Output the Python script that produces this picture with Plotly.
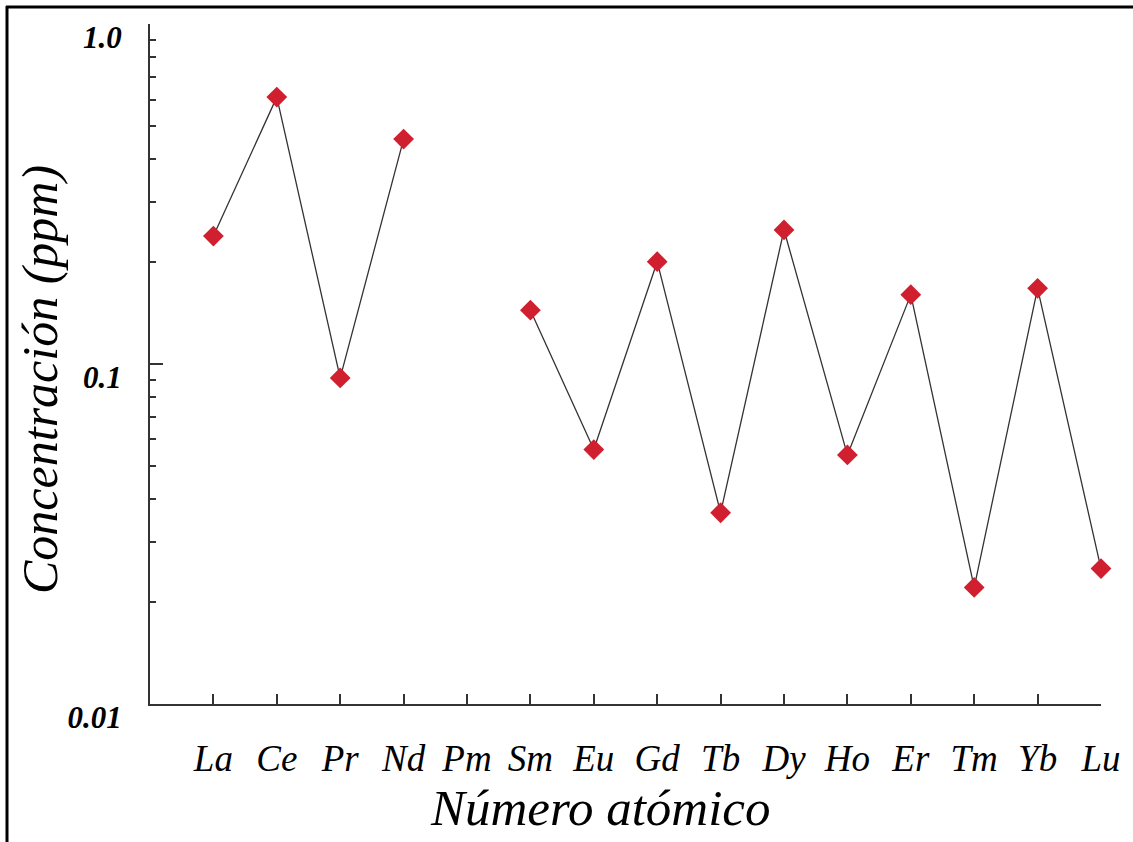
import plotly.graph_objects as go

elements = ["La", "Ce", "Pr", "Nd", "Pm", "Sm", "Eu", "Gd", "Tb", "Dy", "Ho", "Er", "Tm", "Yb", "Lu"]
concentration = [0.238, 0.61, 0.091, 0.459, None, 0.144, 0.056, 0.20, 0.0365, 0.248, 0.054, 0.16, 0.022, 0.167, 0.025]
y_ticks = [0.01, 0.1, 1.0]
y_tick_labels = ["0.01", "0.1", "1.0"]
y_minor = [k * 10 ** e for e in (-2, -1) for k in range(2, 10)]
x_title = "Número atómico"
y_title = "Concentración (ppm)"

FONT = "Liberation Serif"
W, H = 1133, 842
L, R, T, B = 150, 32, 24, 138
pw, ph = W - L - R, H - T - B


def px_x(p):
    return (p - L) / pw


def px_y(p):
    return (H - B - p) / ph


fig = go.Figure()
fig.add_trace(go.Scatter(
    x=list(range(len(elements))),
    y=concentration,
    mode="lines+markers",
    connectgaps=False,
    line=dict(color="#333333", width=1.3),
    marker=dict(symbol="diamond", size=16, color="#d01f2f", line=dict(width=0)),
    showlegend=False,
    cliponaxis=False,
))

fig.update_layout(
    width=W, height=H,
    margin=dict(l=L, r=R, t=T, b=B, autoexpand=False),
    paper_bgcolor="white", plot_bgcolor="white",
    xaxis=dict(
        range=[-1, len(elements) - 1],
        tickmode="array",
        tickvals=list(range(len(elements))),
        ticktext=elements,
        ticks="inside", ticklen=10, tickwidth=1.5, tickcolor="#333",
        showline=True, linecolor="#333", linewidth=2,
        showgrid=False, zeroline=False,
        tickfont=dict(family=FONT, size=37, color="black", style="italic"),
        ticklabelstandoff=21,
        automargin=False,
    ),
    yaxis=dict(
        type="log",
        range=[-2.0005, 0.0005],
        tickmode="array",
        tickvals=y_ticks,
        ticktext=y_tick_labels,
        ticks="inside", ticklen=13, tickwidth=1.5, tickcolor="#333",
        minor=dict(tickmode="array", tickvals=y_minor, ticks="inside", ticklen=6,
                   tickwidth=1.5, tickcolor="#333", showgrid=False),
        showline=True, linecolor="#333", linewidth=2,
        showgrid=False, zeroline=False,
        tickfont=dict(family=FONT, size=31, color="black", style="italic", weight="bold"),
        ticklabelstandoff=20,
        ticklabelshift=13,
        automargin=False,
    ),
    annotations=[
        dict(text=x_title, xref="paper", yref="paper", x=px_x(600), y=px_y(808),
             xanchor="center", yanchor="middle", showarrow=False,
             font=dict(family=FONT, size=51, color="black", style="italic")),
        dict(text=y_title, xref="paper", yref="paper", x=px_x(40), y=px_y(380),
             xanchor="center", yanchor="middle", showarrow=False, textangle=-90,
             font=dict(family=FONT, size=50, color="black", style="italic")),
    ],
)

# outer frame (top and left edges visible in the reference)
fig.add_shape(type="line", xref="paper", yref="paper",
              x0=px_x(6), x1=px_x(W), y0=px_y(7), y1=px_y(7),
              line=dict(color="black", width=3))
fig.add_shape(type="line", xref="paper", yref="paper",
              x0=px_x(7), x1=px_x(7), y0=px_y(6), y1=px_y(H),
              line=dict(color="black", width=3))

fig.write_html("out.html")
